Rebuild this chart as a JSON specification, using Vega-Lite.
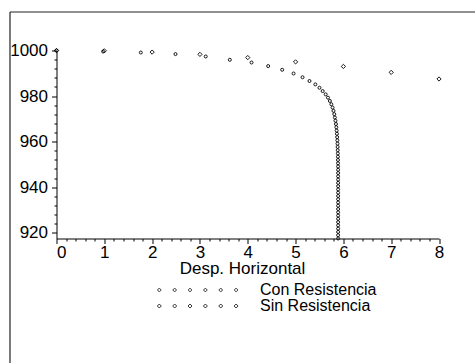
{
  "$schema": "https://vega.github.io/schema/vega-lite/v6.json",
  "width": 382.5,
  "height": 188,
  "autosize": {"type": "none"},
  "padding": {"left": 56.5, "top": 50.5, "right": 36, "bottom": 124.5},
  "background": "white",
  "config": {
    "view": {"stroke": null},
    "font": "Liberation Sans",
    "axis": {
      "domainColor": "black", "domainWidth": 1, "tickColor": "black", "tickWidth": 1,
      "labelColor": "black", "labelFont": "Liberation Sans", "labelFontSize": 17,
      "grid": false, "titleFont": "Liberation Sans", "titleFontSize": 17,
      "titleFontWeight": "normal", "titleColor": "black"
    }
  },
  "data": {"values": [
    {"x": 0, "y": 1000, "serie": "Con Resistencia"},
    {"x": 0.975, "y": 999.56, "serie": "Con Resistencia"},
    {"x": 1.763, "y": 999.12, "serie": "Con Resistencia"},
    {"x": 2.489, "y": 998.42, "serie": "Con Resistencia"},
    {"x": 3.121, "y": 997.37, "serie": "Con Resistencia"},
    {"x": 3.625, "y": 995.92, "serie": "Con Resistencia"},
    {"x": 4.079, "y": 994.74, "serie": "Con Resistencia"},
    {"x": 4.427, "y": 993.16, "serie": "Con Resistencia"},
    {"x": 4.72, "y": 991.54, "serie": "Con Resistencia"},
    {"x": 4.958, "y": 989.91, "serie": "Con Resistencia"},
    {"x": 5.146, "y": 988.25, "serie": "Con Resistencia"},
    {"x": 5.291, "y": 986.62, "serie": "Con Resistencia"},
    {"x": 5.414, "y": 985.13, "serie": "Con Resistencia"},
    {"x": 5.5, "y": 983.64, "serie": "Con Resistencia"},
    {"x": 5.567, "y": 982.19, "serie": "Con Resistencia"},
    {"x": 5.63, "y": 980.75, "serie": "Con Resistencia"},
    {"x": 5.678, "y": 979.3, "serie": "Con Resistencia"},
    {"x": 5.718, "y": 977.85, "serie": "Con Resistencia"},
    {"x": 5.749, "y": 976.4, "serie": "Con Resistencia"},
    {"x": 5.774, "y": 974.96, "serie": "Con Resistencia"},
    {"x": 5.793, "y": 973.51, "serie": "Con Resistencia"},
    {"x": 5.81, "y": 972.06, "serie": "Con Resistencia"},
    {"x": 5.822, "y": 970.61, "serie": "Con Resistencia"},
    {"x": 5.834, "y": 969.18, "serie": "Con Resistencia"},
    {"x": 5.845, "y": 967.74, "serie": "Con Resistencia"},
    {"x": 5.853, "y": 966.31, "serie": "Con Resistencia"},
    {"x": 5.86, "y": 964.87, "serie": "Con Resistencia"},
    {"x": 5.865, "y": 963.44, "serie": "Con Resistencia"},
    {"x": 5.87, "y": 962.0, "serie": "Con Resistencia"},
    {"x": 5.874, "y": 960.57, "serie": "Con Resistencia"},
    {"x": 5.877, "y": 959.13, "serie": "Con Resistencia"},
    {"x": 5.88, "y": 957.7, "serie": "Con Resistencia"},
    {"x": 5.882, "y": 956.26, "serie": "Con Resistencia"},
    {"x": 5.884, "y": 954.83, "serie": "Con Resistencia"},
    {"x": 5.886, "y": 953.39, "serie": "Con Resistencia"},
    {"x": 5.887, "y": 951.96, "serie": "Con Resistencia"},
    {"x": 5.888, "y": 950.52, "serie": "Con Resistencia"},
    {"x": 5.889, "y": 949.09, "serie": "Con Resistencia"},
    {"x": 5.89, "y": 947.65, "serie": "Con Resistencia"},
    {"x": 5.89, "y": 946.22, "serie": "Con Resistencia"},
    {"x": 5.89, "y": 944.78, "serie": "Con Resistencia"},
    {"x": 5.89, "y": 943.35, "serie": "Con Resistencia"},
    {"x": 5.89, "y": 941.91, "serie": "Con Resistencia"},
    {"x": 5.89, "y": 940.48, "serie": "Con Resistencia"},
    {"x": 5.89, "y": 939.04, "serie": "Con Resistencia"},
    {"x": 5.89, "y": 937.61, "serie": "Con Resistencia"},
    {"x": 5.89, "y": 936.17, "serie": "Con Resistencia"},
    {"x": 5.89, "y": 934.74, "serie": "Con Resistencia"},
    {"x": 5.89, "y": 933.3, "serie": "Con Resistencia"},
    {"x": 5.89, "y": 931.87, "serie": "Con Resistencia"},
    {"x": 5.89, "y": 930.43, "serie": "Con Resistencia"},
    {"x": 5.89, "y": 929.0, "serie": "Con Resistencia"},
    {"x": 5.89, "y": 927.56, "serie": "Con Resistencia"},
    {"x": 5.89, "y": 926.13, "serie": "Con Resistencia"},
    {"x": 5.89, "y": 924.69, "serie": "Con Resistencia"},
    {"x": 5.89, "y": 923.26, "serie": "Con Resistencia"},
    {"x": 5.89, "y": 921.82, "serie": "Con Resistencia"},
    {"x": 5.89, "y": 920.39, "serie": "Con Resistencia"},
    {"x": 5.89, "y": 918.95, "serie": "Con Resistencia"},
    {"x": 5.89, "y": 917.52, "serie": "Con Resistencia"},
    {"x": 0, "y": 1000, "serie": "Sin Resistencia"},
    {"x": 1, "y": 999.85, "serie": "Sin Resistencia"},
    {"x": 2, "y": 999.3, "serie": "Sin Resistencia"},
    {"x": 3, "y": 998.3, "serie": "Sin Resistencia"},
    {"x": 4, "y": 996.9, "serie": "Sin Resistencia"},
    {"x": 5, "y": 995.0, "serie": "Sin Resistencia"},
    {"x": 6, "y": 993.0, "serie": "Sin Resistencia"},
    {"x": 7, "y": 990.4, "serie": "Sin Resistencia"},
    {"x": 8, "y": 987.5, "serie": "Sin Resistencia"}
  ]},
  "layer": [
    {
      "transform": [{"filter": "datum.serie === 'Con Resistencia'"}],
      "mark": {"type": "point", "shape": "circle", "filled": false, "color": "black", "strokeWidth": 0.9, "size": 9, "opacity": 1},
      "encoding": {
        "x": {
          "field": "x", "type": "quantitative",
          "scale": {"domain": [0, 8], "nice": false, "zero": false},
          "axis": {
            "title": "Desp. Horizontal",
            "values": [0, 0.2, 0.4, 0.6, 0.8, 1, 1.2, 1.4, 1.6, 1.8, 2, 2.2, 2.4, 2.6, 2.8, 3, 3.2, 3.4, 3.6, 3.8, 4, 4.2, 4.4, 4.6, 4.8, 5, 5.2, 5.4, 5.6, 5.8, 6, 6.2, 6.4, 6.6, 6.8, 7, 7.2, 7.4, 7.6, 7.8, 8],
            "labelExpr": "datum.value % 1 === 0 ? '' + datum.value : ''",
            "tickSize": {"condition": {"test": "datum.value % 1 === 0", "value": 5}, "value": 2.5},
            "labelAlign": {"condition": {"test": "datum.value === 0", "value": "left"}, "value": "center"},
            "labelPadding": 1, "labelOverlap": false, "labelFlush": false,
            "titlePadding": 0, "titleX": 185.5
          }
        },
        "y": {
          "field": "y", "type": "quantitative",
          "scale": {"domain": [917.5, 1000], "nice": false, "zero": false},
          "axis": {
            "title": null,
            "values": [920, 924, 928, 932, 936, 940, 944, 948, 952, 956, 960, 964, 968, 972, 976, 980, 984, 988, 992, 996, 1000],
            "labelExpr": "datum.value % 20 === 0 ? '' + datum.value : ''",
            "tickSize": {"condition": {"test": "datum.value % 20 === 0", "value": 5}, "value": 2.5},
            "labelPadding": 4, "labelOverlap": false, "labelFlush": false
          }
        }
      }
    },
    {
      "transform": [{"filter": "datum.serie === 'Sin Resistencia'"}],
      "mark": {"type": "point", "shape": "diamond", "filled": false, "color": "black", "strokeWidth": 0.9, "size": 18, "opacity": 1},
      "encoding": {
        "x": {
          "field": "x", "type": "quantitative",
          "scale": {"domain": [0, 8], "nice": false, "zero": false},
          "axis": {
            "title": "Desp. Horizontal",
            "values": [0, 0.2, 0.4, 0.6, 0.8, 1, 1.2, 1.4, 1.6, 1.8, 2, 2.2, 2.4, 2.6, 2.8, 3, 3.2, 3.4, 3.6, 3.8, 4, 4.2, 4.4, 4.6, 4.8, 5, 5.2, 5.4, 5.6, 5.8, 6, 6.2, 6.4, 6.6, 6.8, 7, 7.2, 7.4, 7.6, 7.8, 8],
            "labelExpr": "datum.value % 1 === 0 ? '' + datum.value : ''",
            "tickSize": {"condition": {"test": "datum.value % 1 === 0", "value": 5}, "value": 2.5},
            "labelAlign": {"condition": {"test": "datum.value === 0", "value": "left"}, "value": "center"},
            "labelPadding": 1, "labelOverlap": false, "labelFlush": false,
            "titlePadding": 0, "titleX": 185.5
          }
        },
        "y": {
          "field": "y", "type": "quantitative",
          "scale": {"domain": [917.5, 1000], "nice": false, "zero": false},
          "axis": {
            "title": null,
            "values": [920, 924, 928, 932, 936, 940, 944, 948, 952, 956, 960, 964, 968, 972, 976, 980, 984, 988, 992, 996, 1000],
            "labelExpr": "datum.value % 20 === 0 ? '' + datum.value : ''",
            "tickSize": {"condition": {"test": "datum.value % 20 === 0", "value": 5}, "value": 2.5},
            "labelPadding": 4, "labelOverlap": false, "labelFlush": false
          }
        }
      }
    },
    {
      "transform": [{"filter": "false"}],
      "mark": {"type": "point", "filled": false, "color": "black", "strokeWidth": 0.8, "size": 4, "opacity": 1},
      "encoding": {
        "x": {
          "field": "x", "type": "quantitative",
          "scale": {"domain": [0, 8], "nice": false, "zero": false},
          "axis": {
            "title": "Desp. Horizontal",
            "values": [0, 0.2, 0.4, 0.6, 0.8, 1, 1.2, 1.4, 1.6, 1.8, 2, 2.2, 2.4, 2.6, 2.8, 3, 3.2, 3.4, 3.6, 3.8, 4, 4.2, 4.4, 4.6, 4.8, 5, 5.2, 5.4, 5.6, 5.8, 6, 6.2, 6.4, 6.6, 6.8, 7, 7.2, 7.4, 7.6, 7.8, 8],
            "labelExpr": "datum.value % 1 === 0 ? '' + datum.value : ''",
            "tickSize": {"condition": {"test": "datum.value % 1 === 0", "value": 5}, "value": 2.5},
            "labelAlign": {"condition": {"test": "datum.value === 0", "value": "left"}, "value": "center"},
            "labelPadding": 1, "labelOverlap": false, "labelFlush": false,
            "titlePadding": 0, "titleX": 185.5
          }
        },
        "y": {
          "field": "y", "type": "quantitative",
          "scale": {"domain": [917.5, 1000], "nice": false, "zero": false},
          "axis": {
            "title": null,
            "values": [920, 924, 928, 932, 936, 940, 944, 948, 952, 956, 960, 964, 968, 972, 976, 980, 984, 988, 992, 996, 1000],
            "labelExpr": "datum.value % 20 === 0 ? '' + datum.value : ''",
            "tickSize": {"condition": {"test": "datum.value % 20 === 0", "value": 5}, "value": 2.5},
            "labelPadding": 4, "labelOverlap": false, "labelFlush": false
          }
        },
        "shape": {
          "field": "serie", "type": "nominal",
          "scale": {
            "domain": ["Con Resistencia", "Sin Resistencia"],
            "range": [
              "M -39.9 0 A 1.5 1.5 0 1 0 -36.9 0 A 1.5 1.5 0 1 0 -39.9 0 Z M -24.54 0 A 1.5 1.5 0 1 0 -21.54 0 A 1.5 1.5 0 1 0 -24.54 0 Z M -9.18 0 A 1.5 1.5 0 1 0 -6.18 0 A 1.5 1.5 0 1 0 -9.18 0 Z M 6.18 0 A 1.5 1.5 0 1 0 9.18 0 A 1.5 1.5 0 1 0 6.18 0 Z M 21.54 0 A 1.5 1.5 0 1 0 24.54 0 A 1.5 1.5 0 1 0 21.54 0 Z M 36.9 0 A 1.5 1.5 0 1 0 39.9 0 A 1.5 1.5 0 1 0 36.9 0 Z",
              "M -40.4 0 L -38.4 -2 L -36.4 0 L -38.4 2 Z M -25.04 0 L -23.04 -2 L -21.04 0 L -23.04 2 Z M -9.68 0 L -7.68 -2 L -5.68 0 L -7.68 2 Z M 5.68 0 L 7.68 -2 L 9.68 0 L 7.68 2 Z M 21.04 0 L 23.04 -2 L 25.04 0 L 23.04 2 Z M 36.4 0 L 38.4 -2 L 40.4 0 L 38.4 2 Z"
            ]
          },
          "legend": {
            "title": null, "orient": "none", "legendX": 133.2, "legendY": 231.5,
            "padding": 0, "rowPadding": 0, "symbolSize": 4, "symbolOffset": 0, "labelOffset": 54.3,
            "labelFont": "Liberation Sans", "labelFontSize": 16, "labelColor": "black",
            "symbolStrokeColor": "black", "symbolStrokeWidth": 0.8, "symbolFillColor": "transparent",
            "encode": {"symbols": {"update": {"size": {"value": 4}}}}
          }
        }
      }
    },
    {
      "data": {"values": [{}]},
      "mark": {"type": "rule", "color": "#222222", "strokeWidth": 1.2},
      "encoding": {
        "x": {
          "datum": -0.9726, "type": "quantitative",
          "scale": {"domain": [0, 8], "nice": false, "zero": false},
          "axis": {
            "title": "Desp. Horizontal",
            "values": [0, 0.2, 0.4, 0.6, 0.8, 1, 1.2, 1.4, 1.6, 1.8, 2, 2.2, 2.4, 2.6, 2.8, 3, 3.2, 3.4, 3.6, 3.8, 4, 4.2, 4.4, 4.6, 4.8, 5, 5.2, 5.4, 5.6, 5.8, 6, 6.2, 6.4, 6.6, 6.8, 7, 7.2, 7.4, 7.6, 7.8, 8],
            "labelExpr": "datum.value % 1 === 0 ? '' + datum.value : ''",
            "tickSize": {"condition": {"test": "datum.value % 1 === 0", "value": 5}, "value": 2.5},
            "labelAlign": {"condition": {"test": "datum.value === 0", "value": "left"}, "value": "center"},
            "labelPadding": 1, "labelOverlap": false, "labelFlush": false,
            "titlePadding": 0, "titleX": 185.5
          }
        },
        "y": {
          "datum": 1016.9, "type": "quantitative",
          "scale": {"domain": [917.5, 1000], "nice": false, "zero": false},
          "axis": {
            "title": null,
            "values": [920, 924, 928, 932, 936, 940, 944, 948, 952, 956, 960, 964, 968, 972, 976, 980, 984, 988, 992, 996, 1000],
            "labelExpr": "datum.value % 20 === 0 ? '' + datum.value : ''",
            "tickSize": {"condition": {"test": "datum.value % 20 === 0", "value": 5}, "value": 2.5},
            "labelPadding": 4, "labelOverlap": false, "labelFlush": false
          }
        },
        "y2": {"datum": 850}
      }
    },
    {
      "data": {"values": [{}]},
      "mark": {"type": "rule", "color": "#222222", "strokeWidth": 1.2},
      "encoding": {
        "x": {
          "datum": -0.9726, "type": "quantitative",
          "scale": {"domain": [0, 8], "nice": false, "zero": false},
          "axis": {
            "title": "Desp. Horizontal",
            "values": [0, 0.2, 0.4, 0.6, 0.8, 1, 1.2, 1.4, 1.6, 1.8, 2, 2.2, 2.4, 2.6, 2.8, 3, 3.2, 3.4, 3.6, 3.8, 4, 4.2, 4.4, 4.6, 4.8, 5, 5.2, 5.4, 5.6, 5.8, 6, 6.2, 6.4, 6.6, 6.8, 7, 7.2, 7.4, 7.6, 7.8, 8],
            "labelExpr": "datum.value % 1 === 0 ? '' + datum.value : ''",
            "tickSize": {"condition": {"test": "datum.value % 1 === 0", "value": 5}, "value": 2.5},
            "labelAlign": {"condition": {"test": "datum.value === 0", "value": "left"}, "value": "center"},
            "labelPadding": 1, "labelOverlap": false, "labelFlush": false,
            "titlePadding": 0, "titleX": 185.5
          }
        },
        "x2": {"datum": 9},
        "y": {
          "datum": 1016.9, "type": "quantitative",
          "scale": {"domain": [917.5, 1000], "nice": false, "zero": false},
          "axis": {
            "title": null,
            "values": [920, 924, 928, 932, 936, 940, 944, 948, 952, 956, 960, 964, 968, 972, 976, 980, 984, 988, 992, 996, 1000],
            "labelExpr": "datum.value % 20 === 0 ? '' + datum.value : ''",
            "tickSize": {"condition": {"test": "datum.value % 20 === 0", "value": 5}, "value": 2.5},
            "labelPadding": 4, "labelOverlap": false, "labelFlush": false
          }
        }
      }
    }
  ]
}
